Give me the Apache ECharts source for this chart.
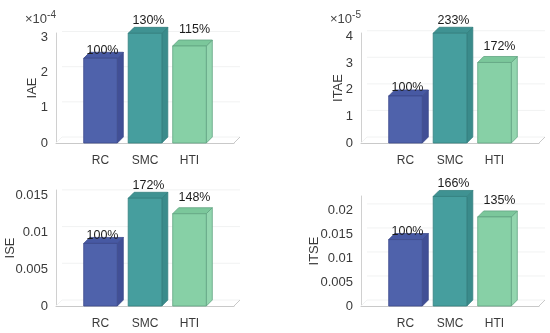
<!DOCTYPE html>
<html>
<head>
<meta charset="utf-8">
<style>html,body{margin:0;padding:0;background:#fff}#c{width:550px;height:333px}</style>
<script src="https://cdn.jsdelivr.net/npm/echarts@6/dist/echarts.min.js"></script>
</head>
<body>
<div id="c"></div>
<script>
const categories = ['', 'RC', 'SMC', 'HTI', ' '];
const iaeValues = [2.41, 3.12, 2.76];
const itaeValues = [1.77, 4.13, 3.03];
const iseValues = [0.00852, 0.01467, 0.01257];
const itseValues = [0.01383, 0.0228, 0.01854];
const iaePercent = ['100%', '130%', '115%'];
const itaePercent = ['100%', '233%', '172%'];
const isePercent = ['100%', '172%', '148%'];
const itsePercent = ['100%', '166%', '135%'];
const iaeTicks = [0, 1, 2, 3];
const itaeTicks = [0, 1, 2, 3, 4];
const iseTicks = [0, 0.005, 0.01, 0.015];
const itseTicks = [0, 0.005, 0.01, 0.015, 0.02];

const FONT = '"Liberation Sans", Arial, sans-serif';
const DEPTH = 6, HALF = 16.8;
const FRONT = ['#4f62ab', '#469e9e', '#87d0a6'];
const SIDE = ['#414f96', '#3a8b8b', '#93d6af'];
const TOP = ['#4759a3', '#3f9292', '#7bc79b'];
const EDGE = ['#3c4a8c', '#34807f', '#62a583'];
const LABEL_LIFT = [8, 13, 16];
const LABEL_SHIFT = [2, 3.5, 5];

const panels = [
  {name:'IAE', vals:iaeValues, pct:iaePercent, ticks:iaeTicks, max:3.13, left:56, top:33, h:110, gap:17, exp:'-4'},
  {name:'ITAE', vals:itaeValues, pct:itaePercent, ticks:itaeTicks, max:4.14, left:361, top:33, h:110, gap:16, exp:'-5'},
  {name:'ISE', vals:iseValues, pct:isePercent, ticks:iseTicks, max:0.0158, left:56, top:190, h:116, gap:39},
  {name:'ITSE', vals:itseValues, pct:itsePercent, ticks:itseTicks, max:0.0229, left:361, top:196, h:110, gap:40}
];
const W = 178;

function barItem(p) {
  return function (params, api) {
    const i = params.dataIndex;
    const top = api.coord([api.value(0), api.value(1)]);
    const base = api.coord([api.value(0), 0]);
    const l = top[0] - HALF, r = top[0] + HALF, t = top[1], b = base[1];
    const line = {stroke: EDGE[i], lineWidth: 0.8};
    return {type:'group', children:[
      {type:'polygon', shape:{points:[[r,t],[r+DEPTH,t-DEPTH],[r+DEPTH,b-DEPTH],[r,b]]}, style:{fill:SIDE[i], ...line}},
      {type:'polygon', shape:{points:[[l,t],[l+DEPTH,t-DEPTH],[r+DEPTH,t-DEPTH],[r,t]]}, style:{fill:TOP[i], ...line}},
      {type:'rect', shape:{x:l, y:t, width:r-l, height:b-t}, style:{fill:FRONT[i], ...line}},
      {type:'text', z2:10, style:{x:top[0]+LABEL_SHIFT[i], y:t-LABEL_LIFT[i], text:p.pct[i], align:'center', verticalAlign:'middle', font:'12.5px '+FONT, fill:'#1c1c1c'}}
    ]};
  };
}

function wallItem(p) {
  return function (params, api) {
    const v = api.value(0);
    const a = api.coord([0, v]), b = api.coord([4, v]);
    const faint = {stroke:'#f1f2f2', lineWidth:1};
    const kids = [{type:'line', shape:{x1:a[0]+DEPTH, y1:a[1]-DEPTH, x2:b[0]+DEPTH, y2:b[1]-DEPTH}, style:faint}];
    if (v === 0) {
      kids.push({type:'line', shape:{x1:b[0], y1:b[1], x2:b[0]+DEPTH, y2:b[1]-DEPTH}, style:{stroke:'#c9c9c9', lineWidth:1}});
      kids.push({type:'line', shape:{x1:a[0], y1:a[1], x2:a[0]+DEPTH, y2:a[1]-DEPTH}, style:faint});
    }
    return {type:'group', silent:true, children:kids};
  };
}

const option = {
  animation:false,
  backgroundColor:'#fff',
  title: panels.filter(p => p.exp).map(p => ({
    left:p.left - 31, top:10, padding:0,
    text:'×10{s|' + p.exp + '}',
    textStyle:{fontFamily:FONT, fontSize:13, fontWeight:'normal', color:'#444', rich:{s:{fontFamily:FONT, fontSize:10, color:'#444', padding:[0,0,9,0]}}}
  })),
  grid: panels.map(p => ({left:p.left, top:p.top, width:W, height:p.h, outerBoundsMode:'none', containLabel:false})),
  xAxis: panels.map((p,i) => ({
    gridIndex:i, type:'category', data:categories, boundaryGap:false,
    axisLine:{lineStyle:{color:'#c9c9c9', width:1}},
    axisTick:{show:false},
    axisLabel:{interval:0, margin:12, fontFamily:FONT, fontSize:12, color:'#3a3a3a'},
    splitLine:{show:false}
  })),
  yAxis: panels.map((p,i) => ({
    gridIndex:i, type:'value', min:0, max:p.max,
    name:p.name, nameLocation:'middle', nameGap:p.gap, nameMoveOverlap:false,
    nameTextStyle:{fontFamily:FONT, fontSize:13, color:'#3a3a3a'},
    axisLine:{show:true, lineStyle:{color:'#d0d0d0', width:1}},
    axisTick:{show:false},
    axisLabel:{customValues:p.ticks, margin:8, fontFamily:FONT, fontSize:13, color:'#3a3a3a'},
    splitLine:{show:false}
  })),
  series: panels.flatMap((p,i) => [
    {type:'custom', xAxisIndex:i, yAxisIndex:i, z:1, silent:true, clip:false, renderItem:wallItem(p), encode:{y:0}, data:p.ticks.map(t => [t])},
    {type:'custom', xAxisIndex:i, yAxisIndex:i, z:2, clip:false, renderItem:barItem(p), encode:{x:0,y:1}, data:p.vals.map((v,k) => [categories[k+1], v])}
  ])
};
echarts.init(document.getElementById('c'), null, {renderer:'canvas'}).setOption(option);
</script>
</body>
</html>
